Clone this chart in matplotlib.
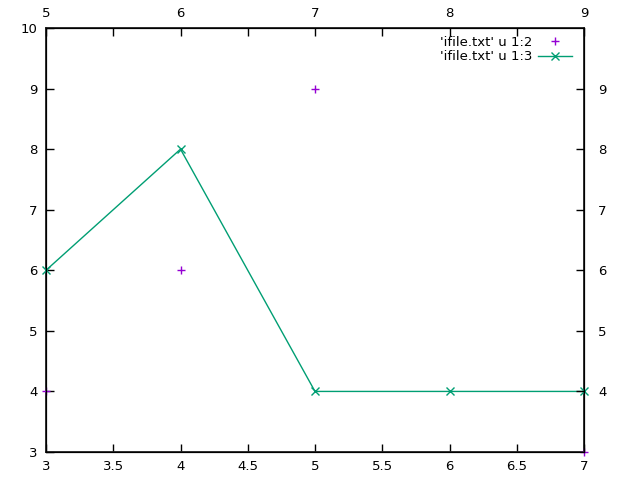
import matplotlib
matplotlib.use("Agg")
import matplotlib.pyplot as plt

# data
x1 = [3, 4, 5, 7]
y1 = [4, 6, 9, 3]
x2 = [3, 4, 5, 6, 7]
y2 = [6, 8, 4, 4, 4]
label1 = "'ifile.txt' u 1:2"
label2 = "'ifile.txt' u 1:3"
bottom_ticks = [3, 3.5, 4, 4.5, 5, 5.5, 6, 6.5, 7]
left_ticks = [3, 4, 5, 6, 7, 8, 9, 10]
top_ticks = [5, 5.5, 6, 6.5, 7, 7.5, 8, 8.5, 9]
right_ticks = [4, 5, 6, 7, 8, 9]

fs = 9.5
fig = plt.figure(figsize=(6.4, 4.8), dpi=100)
ax = fig.add_axes([46/640, 1-452/480, (584-46)/640, (452-28)/480])

ax.plot(x1, y1, linestyle='none', marker='+', color='#9400d3', markersize=5.5, mew=1.0,
        label=label1, clip_on=False, zorder=5)
ax.plot(x2, y2, linestyle='-', marker='x', color='#009e73', markersize=5.5, mew=1.0, lw=1.0,
        label=label2, clip_on=False, zorder=5)

ax.set_xlim(3, 7)
ax.set_ylim(3, 10)
ax.set_xticks(bottom_ticks)
ax.set_xticklabels([f"{t:g}" for t in bottom_ticks])
ax.set_yticks(left_ticks)
ax.tick_params(direction='in', length=6, width=1.0, labelsize=fs, pad=6, colors='black')

for s in ax.spines.values():
    s.set_linewidth(1.3)
    s.set_color('#222222')

axt = ax.twiny()
axt.set_xlim(5, 9)
axt.set_xticks(top_ticks)
axt.set_xticklabels([f"{t:g}" if t == int(t) else '' for t in top_ticks])
axt.tick_params(direction='in', length=6, width=1.0, labelsize=fs, pad=6)

axr = ax.twinx()
axr.set_ylim(3, 10)
axr.set_yticks(right_ticks)
axr.tick_params(direction='in', length=6, width=1.0, labelsize=fs, pad=10)

leg = ax.legend(loc='upper right', frameon=False, markerfirst=False, fontsize=fs,
                handlelength=2.6, borderaxespad=0.2, labelspacing=0.1, handletextpad=0.4,
                bbox_to_anchor=(0.993, 1.0))

fig.savefig("out.png", dpi=100)
